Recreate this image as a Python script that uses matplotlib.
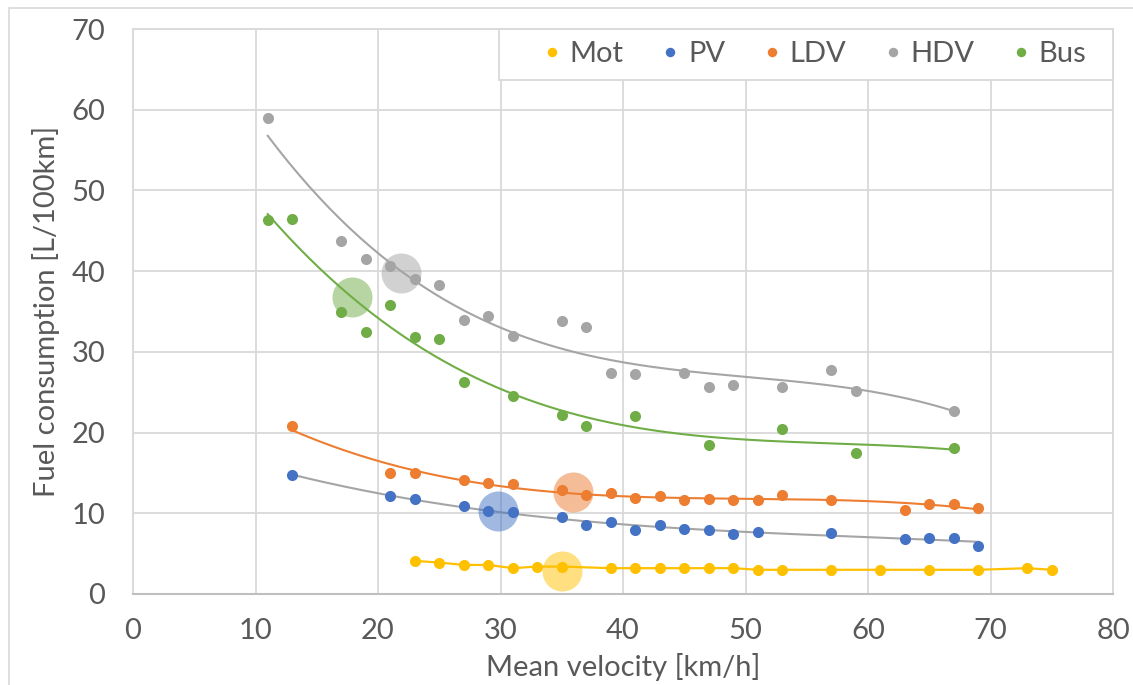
import matplotlib
matplotlib.use('Agg')
import matplotlib.pyplot as plt
from matplotlib.patches import Rectangle
import numpy as np

# mean velocity [km/h] and fuel consumption [L/100km] per vehicle class
mot_v = [23, 25, 27, 29, 31, 33, 35, 39, 41, 43, 45, 47, 49, 51, 53, 57, 61, 65, 69, 73, 75]
mot_fc = [4.1, 3.9, 3.6, 3.6, 3.2, 3.4, 3.4, 3.2, 3.2, 3.2, 3.2, 3.2, 3.2, 3.0, 3.0, 3.0, 3.0, 3.0, 3.0, 3.2, 3.0]

pv_v = [13, 21, 23, 27, 29, 31, 35, 37, 39, 41, 43, 45, 47, 49, 51, 57, 63, 65, 67, 69]
pv_fc = [14.7, 12.1, 11.8, 10.9, 10.3, 10.2, 9.5, 8.6, 8.9, 7.9, 8.6, 8.1, 7.9, 7.4, 7.7, 7.5, 6.8, 7.0, 7.0, 5.9]

ldv_v = [13, 21, 23, 27, 29, 31, 35, 37, 39, 41, 43, 45, 47, 49, 51, 53, 57, 63, 65, 67, 69]
ldv_fc = [20.8, 15.0, 15.0, 14.1, 13.8, 13.6, 12.9, 12.3, 12.5, 11.9, 12.1, 11.6, 11.8, 11.6, 11.6, 12.3, 11.6, 10.4, 11.2, 11.2, 10.6]

hdv_v = [11, 17, 19, 21, 23, 25, 27, 29, 31, 35, 37, 39, 41, 45, 47, 49, 53, 57, 59, 67]
hdv_fc = [59.0, 43.7, 41.5, 40.6, 39.0, 38.3, 34.0, 34.4, 32.0, 33.8, 33.1, 27.4, 27.2, 27.4, 25.7, 25.9, 25.7, 27.7, 25.2, 22.7]

bus_v = [11, 13, 17, 19, 21, 23, 25, 27, 31, 35, 37, 41, 47, 53, 59, 67]
bus_fc = [46.3, 46.5, 34.9, 32.4, 35.8, 31.9, 31.6, 26.3, 24.5, 22.2, 20.8, 22.0, 18.5, 20.4, 17.5, 18.1]

# class averages (mean velocity, mean consumption)
avg_names = ['Mot', 'PV', 'LDV', 'HDV', 'Bus']
avg_v = [35, 29.8, 35.9, 21.9, 17.9]
avg_fc = [2.9, 10.3, 12.6, 39.8, 36.8]

colors = {'Mot': '#FFC000', 'PV': '#4472C4', 'LDV': '#ED7D31', 'HDV': '#A5A5A5', 'Bus': '#70AD47'}
txt = '#595959'
grid_c = '#D9D9D9'

plt.rcParams['font.family'] = ['Lato', 'DejaVu Sans']

fig = plt.figure(figsize=(11.33, 6.85), dpi=100)
ax = fig.add_axes([133 / 1133, 1 - 594 / 685, 980 / 1133, 565 / 685])

# thin frame round the chart area
fig.add_artist(Rectangle((9 / 1133, -0.1), 1.2, 1 - 8 / 685 + 0.1, transform=fig.transFigure,
                         fill=False, edgecolor='#D9D9D9', linewidth=1.2))


def trend(v, fc, deg=3):
    coef = np.polyfit(v, fc, deg)
    xs = np.linspace(min(v), max(v), 200)
    return xs, np.polyval(coef, xs)


series = [('Mot', mot_v, mot_fc), ('PV', pv_v, pv_fc), ('LDV', ldv_v, ldv_fc),
          ('HDV', hdv_v, hdv_fc), ('Bus', bus_v, bus_fc)]

for name, v, fc in series:
    c = colors[name]
    if name == 'Mot':
        ax.plot(v, fc, color=c, linewidth=1.6, zorder=2)
    else:
        xs, ys = trend(v, fc)
        lc = colors['HDV'] if name == 'PV' else c
        ax.plot(xs, ys, color=lc, linewidth=1.5, zorder=2)
    ax.plot(v, fc, 'o', color=c, markersize=8, markeredgewidth=0, label=name, zorder=3)

for name, v, fc in zip(avg_names, avg_v, avg_fc):
    ax.scatter(v, fc, s=830, color=colors[name], alpha=0.5, linewidths=0, zorder=4)

ax.set_xlim(0, 80)
ax.set_ylim(0, 70)
ax.set_xticks(range(0, 81, 10))
ax.set_yticks(range(0, 71, 10))
ax.grid(True, color=grid_c, linewidth=1.3)
ax.set_axisbelow(True)
for s in ['top', 'right', 'left']:
    ax.spines[s].set_color(grid_c)
    ax.spines[s].set_linewidth(1.3)
ax.spines['bottom'].set_color('#BFBFBF')
ax.spines['bottom'].set_linewidth(1.5)
ax.tick_params(axis='both', length=0, labelsize=21, labelcolor=txt)
ax.tick_params(axis='y', pad=20)
ax.tick_params(axis='x', pad=17)

ax.set_xlabel('Mean velocity [km/h]', fontsize=21, color=txt, labelpad=7)
ax.set_ylabel('Fuel consumption [L/100km]', fontsize=21, color=txt, labelpad=8)

# legend box sitting in the top right corner of the plot area
box = (366 / 980, 1 - 51 / 565, 614 / 980, 51 / 565)
ax.add_patch(Rectangle(box[:2], box[2], box[3], transform=ax.transAxes, facecolor='white',
                       edgecolor=grid_c, linewidth=1.3, zorder=5, clip_on=False))
leg = ax.legend(loc='center', bbox_to_anchor=(box[0] + box[2] / 2 + 0.006, box[1] + box[3] / 2),
                ncol=5, frameon=False, fontsize=21, handletextpad=0.1, handlelength=1.0,
                columnspacing=1.1, borderaxespad=0, borderpad=0, markerscale=0.85)
leg.set_zorder(6)
for t in leg.get_texts():
    t.set_color(txt)

fig.savefig('out.png', dpi=100)
